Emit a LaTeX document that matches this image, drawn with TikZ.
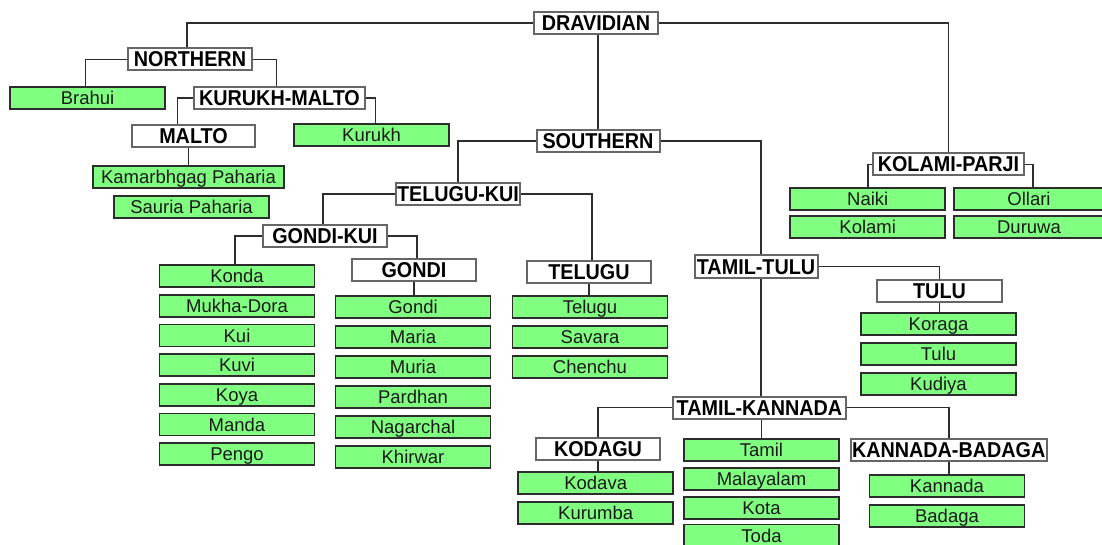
\documentclass[tikz,border=0pt]{standalone}
\usepackage{fontspec}
\setmainfont{Liberation Sans}
\newfontfamily\hdfont[FakeStretch=0.92]{Liberation Sans}
\usepackage{xcolor}
\usepackage{tikz}

\definecolor{leafgreen}{RGB}{128,255,128}
\definecolor{inkgray}{RGB}{45,45,45}

\begin{document}
\begin{tikzpicture}[
    x=1pt, y=-1pt,
    grp/.style={draw=black!60, line width=2pt, fill=white, minimum width=124pt, minimum height=22pt, inner sep=0pt, text height=15pt, text depth=0pt, font=\hdfont\bfseries\fontsize{21.5}{22}\selectfont},
    lang/.style={draw=inkgray, line width=1.8pt, fill=leafgreen, minimum width=155pt, minimum height=22pt, inner sep=0pt, text height=13.2pt, text depth=0pt, text=black!90, font=\fontsize{18.5}{20}\selectfont},
    link/.style={draw=inkgray, line width=1.9pt},
]
\useasboundingbox (0,0) rectangle (1102,545);
\clip (0,0) rectangle (1102,545);
\fill[white] (0,0) rectangle (1102,545);

% Root
\node[grp] (dra) at (596,23) {DRAVIDIAN};

% Northern branch
\node[grp] (nor) at (190,59.5) {NORTHERN};
\node[lang] (brahui) at (87.5,98) {Brahui};
\node[grp, minimum width=171pt] (km) at (279.5,98) {KURUKH-MALTO};
\node[grp, minimum width=123pt] (malto) at (193.5,136) {MALTO};
\node[lang] (kurukh) at (371.5,135) {Kurukh};
\node[lang, minimum width=191pt] (kamar) at (188.5,177) {Kamarbhgag Paharia};
\node[lang] (sauria) at (191.5,207) {Sauria Paharia};

% Kolami-Parji branch
\node[grp, minimum width=151pt] (kp) at (948.5,164.5) {KOLAMI-PARJI};
\node[lang] (naiki) at (867.7,199) {Naiki};
\node[lang] (kolami) at (867.7,227) {Kolami};
\node[lang, minimum width=150pt] (ollari) at (1029,199) {Ollari};
\node[lang, minimum width=150pt] (duruwa) at (1029,227) {Duruwa};

% Southern branch
\node[grp, minimum width=123pt] (sou) at (598,141) {SOUTHERN};
\node[grp] (tk) at (458,194) {TELUGU-KUI};
\node[grp] (gk) at (325,236) {GONDI-KUI};
\node[grp] (gondi) at (414,270) {GONDI};
\node[grp] (tel) at (589,271.5) {TELUGU};

% Gondi-Kui languages
\node[lang] (konda) at (237,276) {Konda};
\node[lang] (mukha) at (237,305.7) {Mukha-Dora};
\node[lang] (kui) at (237,335.4) {Kui};
\node[lang] (kuvi) at (237,365.1) {Kuvi};
\node[lang] (koya) at (237,394.8) {Koya};
\node[lang] (manda) at (237,424.5) {Manda};
\node[lang] (pengo) at (237,454.2) {Pengo};

% Gondi languages
\node[lang] (gondiL) at (413,307) {Gondi};
\node[lang] (maria) at (413,337) {Maria};
\node[lang] (muria) at (413,367) {Muria};
\node[lang] (pardhan) at (413,397) {Pardhan};
\node[lang] (nagarchal) at (413,427) {Nagarchal};
\node[lang] (khirwar) at (413,457) {Khirwar};

% Telugu languages
\node[lang] (telugu) at (590,307) {Telugu};
\node[lang] (savara) at (590,337) {Savara};
\node[lang] (chenchu) at (590,367) {Chenchu};

% Tamil-Tulu
\node[grp, minimum width=123pt] (tt) at (756,266.5) {TAMIL-TULU};
\node[grp, minimum width=125pt] (tulu) at (939.5,291) {TULU};
\node[lang] (koraga) at (938.5,324) {Koraga};
\node[lang] (tuluL) at (938.5,354) {Tulu};
\node[lang] (kudiya) at (938.5,384) {Kudiya};

% Tamil-Kannada
\node[grp, minimum width=173pt] (tkan) at (759.4,407.5) {TAMIL-KANNADA};
\node[grp] (kod) at (598,448.5) {KODAGU};
\node[lang] (kodava) at (595.7,483) {Kodava};
\node[lang] (kurumba) at (595.7,513) {Kurumba};
\node[lang] (tamil) at (761.5,450) {Tamil};
\node[lang] (malayalam) at (761.5,479) {Malayalam};
\node[lang] (kota) at (761.5,508) {Kota};
\node[lang] (toda) at (761.5,535.5) {Toda};
\node[grp, minimum width=196pt] (kb) at (948.7,450) {KANNADA-BADAGA};
\node[lang] (kannada) at (947,486) {Kannada};
\node[lang] (badaga) at (947,516) {Badaga};

% Connectors
\draw[link] (dra.west) -| ([xshift=-3]nor.north);
\draw[link] (dra.east) -| (kp.north);
\draw[link] (dra.south -| sou.north) -- (sou.north);
\draw[link] (nor.west) -| ([xshift=-2]brahui.north);
\draw[link] (nor.east) -| ([xshift=-3]km.north);
\draw[link] (km.west) -| ([xshift=-16]malto.north);
\draw[link] (km.east) -| ([xshift=4]kurukh.north);
\draw[link] (malto.south -| kamar.north) -- (kamar.north);
\draw[link] (kp.west) -| (naiki.north);
\draw[link] (kp.east) -| ([xshift=4]ollari.north);
\draw[link] (sou.west) -| (tk.north);
\draw[link] (sou.east) -| ([xshift=5]tt.north);
\draw[link] (tk.west) -| ([xshift=-2]gk.north);
\draw[link] (tk.east) -| ([xshift=3]tel.north);
\draw[link] (gk.west) -| ([xshift=-2]konda.north);
\draw[link] (gk.east) -| ([xshift=3]gondi.north);
\draw[link] (gondi.south) -- (gondi.south |- gondiL.north);
\draw[link] (tel.south) -- (tel.south |- telugu.north);
\draw[link] (tt.east) -| (tulu.north);
\draw[link] (tulu.south) -- (tulu.south |- koraga.north);
\draw[link] ([xshift=2]tkan.north) -- ([xshift=2]tkan.north |- tt.south);
\draw[link] (tkan.west) -| (kod.north);
\draw[link] (tkan.east) -| (kb.north);
\draw[link] (tkan.south -| tamil.north) -- (tamil.north);
\draw[link] (kod.south) -- (kod.south |- kodava.north);
\draw[link] (kb.south) -- (kb.south |- kannada.north);

\end{tikzpicture}
\end{document}
